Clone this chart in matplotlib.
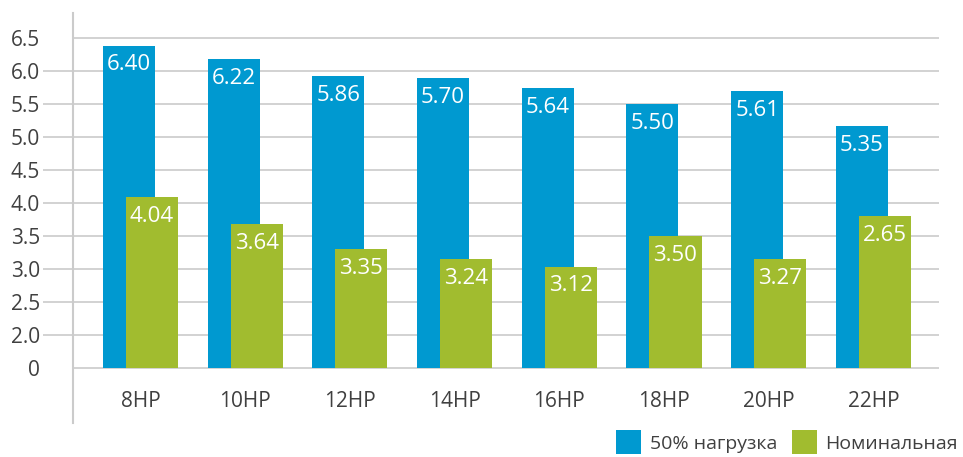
import matplotlib
matplotlib.use("Agg")
import matplotlib.pyplot as plt
import matplotlib.transforms as mtransforms
from matplotlib.patches import Patch

plt.rcParams['font.family'] = ['Open Sans', 'DejaVu Sans']

categories = ["8HP", "10HP", "12HP", "14HP", "16HP", "18HP", "20HP", "22HP"]
# bar heights as drawn (axis origin labelled "0" sits at 1.5)
load50_heights = [6.39, 6.19, 5.93, 5.90, 5.75, 5.50, 5.70, 5.17]
nominal_heights = [4.09, 3.68, 3.30, 3.15, 3.04, 3.50, 3.15, 3.80]
# printed labels
load50_labels = ["6.40", "6.22", "5.86", "5.70", "5.64", "5.50", "5.61", "5.35"]
nominal_labels = ["4.04", "3.64", "3.35", "3.24", "3.12", "3.50", "3.27", "2.65"]
ytick_values = [1.5, 2.0, 2.5, 3.0, 3.5, 4.0, 4.5, 5.0, 5.5, 6.0, 6.5]
ytick_labels = ["0", "2.0", "2.5", "3.0", "3.5", "4.0", "4.5", "5.0", "5.5", "6.0", "6.5"]
series_names = ["50% нагрузка", "Номинальная"]

BLUE = "#0099d0"
GREEN = "#a1bc2f"
GRID = "#cbcbcb"
TEXT = "#404040"
BASE = 1.5

W, H = 963, 457
fig = plt.figure(figsize=(W / 100, H / 100), dpi=100)
left_px, right_px, top_px, bot_px = 73.3, 938.7, 13.0, 422.7
ax = fig.add_axes([left_px / W, 1 - bot_px / H, (right_px - left_px) / W, (bot_px - top_px) / H])

x = list(range(len(categories)))
bw = 0.497
off = 0.11
xb = [i - off for i in x]
xg = [i + off for i in x]

ax.bar(xb, [h - BASE for h in load50_heights], bw, bottom=BASE, color=BLUE, zorder=3)
ax.bar(xg, [h - BASE for h in nominal_heights], bw, bottom=BASE, color=GREEN, zorder=4)

for xi, h, lab in zip(xb, load50_heights, load50_labels):
    ax.annotate(lab, (xi, h), xytext=(0, -14), textcoords="offset points",
                ha="center", va="center", color="white", fontsize=16, zorder=5)
for xi, h, lab in zip(xg, nominal_heights, nominal_labels):
    ax.annotate(lab, (xi, h), xytext=(0, -13.5), textcoords="offset points",
                ha="center", va="center", color="white", fontsize=16, zorder=5)

ax.set_xlim(-0.642, 7.624)
ax.set_ylim(0.676, 6.883)

# gridlines
trans = mtransforms.blended_transform_factory(ax.transAxes, ax.transData)
for v in ytick_values:
    x0 = 0.0 if v in (BASE, 6.5) else -0.035
    ax.plot([x0, 1.0], [v, v], transform=trans, color=GRID, lw=1.2,
            clip_on=False, zorder=1, solid_capstyle="butt")

ax.set_yticks(ytick_values)
ax.set_yticklabels(ytick_labels)
ax.tick_params(axis="y", length=0, pad=24, labelsize=15, labelcolor=TEXT)

# category labels sit inside the plot area, below the "0" line
ax.set_xticks([])
for xi, cat in zip(x, categories):
    ax.text(xi, 1.0, cat, ha="center", va="center", fontsize=15, color=TEXT)

for s in ["top", "right", "bottom"]:
    ax.spines[s].set_visible(False)
ax.spines["left"].set_color(GRID)
ax.spines["left"].set_linewidth(1.5)

handles = [Patch(facecolor=BLUE, edgecolor="none"), Patch(facecolor=GREEN, edgecolor="none")]
fig.legend(handles, series_names, ncol=2, frameon=False,
           loc="lower right", bbox_to_anchor=(958 / W, 3 / H),
           fontsize=14, labelcolor=TEXT, handlelength=1.25, handleheight=1.5,
           handletextpad=0.45, columnspacing=0.8, borderpad=0, borderaxespad=0)

fig.savefig("out.png", dpi=100)
